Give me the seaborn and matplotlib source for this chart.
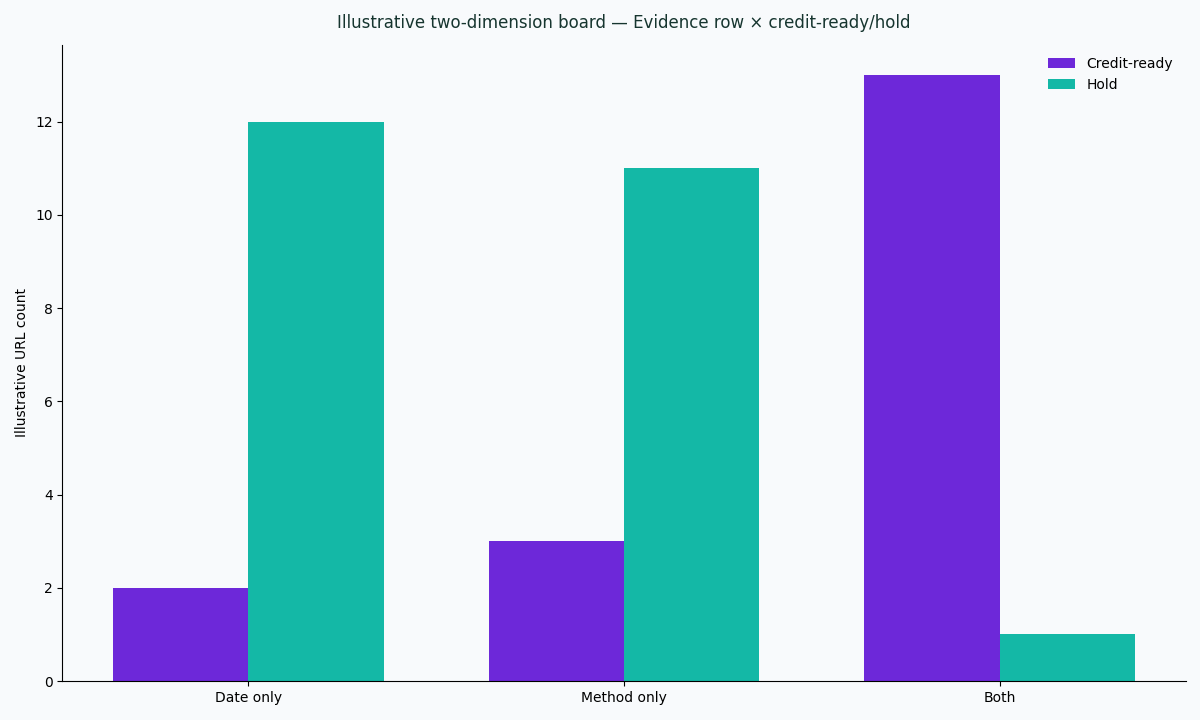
import matplotlib
matplotlib.use("Agg")
import matplotlib.pyplot as plt
import seaborn as sns
import pandas as pd

categories = ["Date only", "Method only", "Both"]
series_names = ["Credit-ready", "Hold"]
credit_ready = [2, 3, 13]
hold = [12, 11, 1]

df = pd.DataFrame({
    "Evidence row": categories * 2,
    "Status": [series_names[0]] * 3 + [series_names[1]] * 3,
    "Count": credit_ready + hold,
})

sns.set_style("white")
plt.rcParams["font.family"] = ["DejaVu Sans"]
plt.rcParams["text.color"] = "black"
plt.rcParams["axes.labelcolor"] = "black"
plt.rcParams["xtick.color"] = "black"
plt.rcParams["ytick.color"] = "black"

bg = "#f8fafc"
fig, ax = plt.subplots(figsize=(12, 7.2), dpi=100)
fig.patch.set_facecolor(bg)
ax.set_facecolor(bg)

sns.barplot(data=df, x="Evidence row", y="Count", hue="Status",
            palette=["#6d28d9", "#14b8a6"], width=0.72, ax=ax,
            saturation=1, errorbar=None, linewidth=0, edgecolor="none")

ax.set_xlabel("")
ax.set_ylabel("Illustrative URL count", fontsize=10)
ax.set_title("Illustrative two-dimension board — Evidence row × credit-ready/hold",
             fontsize=12, color="#16352f", pad=12)
sns.despine(ax=ax)
for s in ["left", "bottom"]:
    ax.spines[s].set_color("black")
    ax.spines[s].set_linewidth(0.8)
ax.tick_params(axis="both", which="both", length=3.5, width=0.8, labelsize=10,
               left=True, bottom=True, colors="black")
ax.set_xlim(-0.495, 2.495)
leg = ax.legend(frameon=False, fontsize=10, loc="upper right")
ax.set_yticks([0, 2, 4, 6, 8, 10, 12])

fig.subplots_adjust(left=0.052, right=0.988, top=0.938, bottom=0.054)
fig.savefig("out.png", facecolor=bg)
